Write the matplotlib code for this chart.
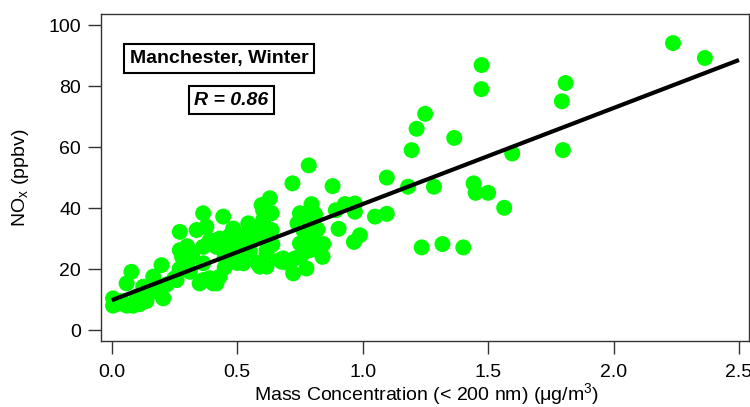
import matplotlib
matplotlib.use("Agg")
import matplotlib.pyplot as plt
import numpy as np

plt.rcParams['font.family'] = ['Liberation Sans', 'DejaVu Sans']

mass_conc = [
    0.005, 0.005, 0.02, 0.04, 0.06, 0.085, 0.11, 0.078, 0.059, 0.10, 0.125, 0.138, 0.165, 0.17,
    0.198, 0.205, 0.15, 0.22, 0.25, 0.258, 0.27,
    0.271, 0.271, 0.30, 0.311, 0.338, 0.35, 0.364, 0.364, 0.364, 0.364, 0.377, 0.39, 0.391,
    0.404, 0.417, 0.417, 0.43, 0.43, 0.444, 0.45, 0.45, 0.32, 0.30, 0.28,
    0.484, 0.484, 0.47, 0.50, 0.50, 0.524, 0.53, 0.544, 0.55, 0.563, 0.575, 0.58, 0.59, 0.597,
    0.603, 0.603, 0.61, 0.617, 0.617, 0.617, 0.63, 0.637, 0.637, 0.64, 0.52, 0.46,
    0.67, 0.677, 0.683, 0.72, 0.723, 0.73, 0.75, 0.75, 0.763, 0.776, 0.785, 0.79, 0.796, 0.80,
    0.80, 0.80, 0.84, 0.843, 0.88, 0.893, 0.904, 0.929, 0.965, 0.969, 0.989, 0.969, 0.74, 0.76,
    0.78, 0.81, 0.82, 0.70,
    1.049, 1.096, 1.096, 1.181, 1.195, 1.215, 1.235, 1.249, 1.284, 1.318, 1.365, 1.401, 1.442,
    1.450, 1.473, 1.474, 1.500, 1.564, 1.596, 1.794, 1.798, 1.809, 2.237, 2.364,
]
nox_ppbv = [
    10.4, 8.0, 8.5, 9.5, 8.0, 8.0, 8.5, 19.1, 15.3, 11.0, 14.2, 9.5, 17.5, 13.0,
    21.3, 10.4, 12.0, 15.0, 17.0, 16.4, 20.0,
    32.2, 26.2, 27.5, 19.1, 32.8, 15.3, 38.3, 27.3, 21.9, 16.4, 33.9, 17.0, 29.5,
    15.3, 27.3, 15.3, 17.5, 30.0, 37.2, 24.0, 20.5, 25.0, 22.0, 24.0,
    33.3, 24.0, 31.0, 28.0, 22.0, 21.9, 31.0, 35.0, 26.0, 29.5, 33.0, 22.0, 20.8, 41.0,
    39.3, 36.1, 30.0, 26.2, 25.1, 20.8, 43.2, 38.3, 32.8, 28.0, 25.0, 27.0,
    23.0, 22.4, 23.5, 48.1, 18.6, 23.5, 38.3, 28.4, 32.8, 20.2, 54.0, 26.2, 41.3, 35.5,
    31.7, 30.0, 24.0, 28.2, 47.2, 39.3, 33.2, 41.3, 28.9, 38.8, 31.1, 41.5, 35.0, 25.0,
    35.0, 38.0, 33.0, 22.0,
    37.2, 38.1, 50.0, 47.0, 59.0, 66.0, 27.1, 70.9, 47.0, 28.2, 63.0, 27.1, 48.1,
    45.0, 79.0, 86.9, 45.0, 40.1, 57.9, 75.0, 59.0, 81.0, 94.1, 89.2,
]
fit_intercept = 9.8
fit_slope = 31.5
fit_x_range = [0.0, 2.5]

x_ticks = [0.0, 0.5, 1.0, 1.5, 2.0, 2.5]
x_tick_labels = ['0.0', '0.5', '1.0', '1.5', '2.0', '2.5']
y_ticks = [0, 20, 40, 60, 80, 100]

fig = plt.figure(figsize=(7.5, 4.07), dpi=100)
ax = fig.add_axes([0.1347, 0.162, 0.864, 0.8034])

ax.scatter(mass_conc, nox_ppbv, s=132, color='#00ff00', edgecolors='none', zorder=2)
fx = np.array(fit_x_range)
ax.plot(fx, fit_intercept + fit_slope * fx, color='black', lw=3, zorder=3, solid_capstyle='butt')

ax.set_xlim(-0.043, 2.540)
ax.set_ylim(-3.6, 103.6)
ax.set_xticks(x_ticks)
ax.set_xticklabels(x_tick_labels)
ax.set_yticks(y_ticks)
ax.tick_params(axis='both', direction='out', length=9.5, width=1, labelsize=14, color='#333333')
ax.tick_params(axis='x', pad=7)
ax.tick_params(axis='y', pad=5)
for sp in ax.spines.values():
    sp.set_linewidth(1)
    sp.set_color('#333333')

ax.set_xlabel('Mass Concentration (< 200 nm) ($\\mathregular{\\mu}$g/m$^\\mathregular{3}$)', fontsize=14)
ax.xaxis.label.set_va('baseline')
ax.xaxis.set_label_coords(0.5015, -0.184)
ax.set_ylabel('NO$_\\mathregular{x}$ (ppbv)', fontsize=14)
ax.yaxis.label.set_va('center')
ax.yaxis.set_label_coords(-0.124, 0.5)

ax.text(0.182, 0.864, 'Manchester, Winter', transform=ax.transAxes, ha='center', va='center',
        fontsize=14, fontweight='bold',
        bbox=dict(boxstyle='square,pad=0.3', fc='white', ec='black', lw=1.5))
ax.text(0.2014, 0.737, 'R = 0.86', transform=ax.transAxes, ha='center', va='center',
        fontsize=14, fontweight='bold', fontstyle='italic',
        bbox=dict(boxstyle='square,pad=0.3', fc='white', ec='black', lw=1.5))

fig.savefig('out.png', dpi=100)
